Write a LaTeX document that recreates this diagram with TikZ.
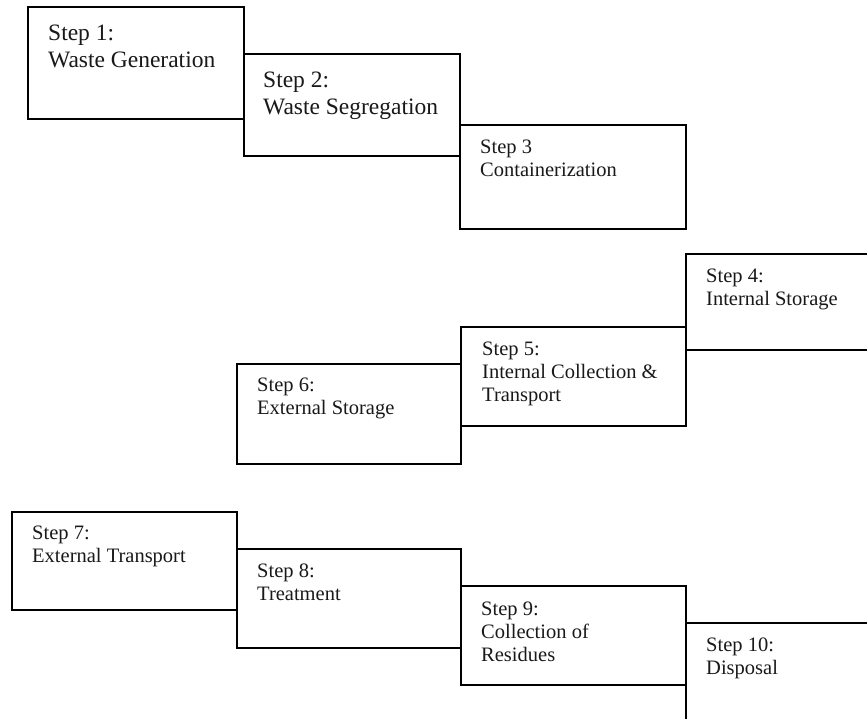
\documentclass[tikz,border=0pt]{standalone}
\usepackage{fontspec}
\setmainfont{Liberation Serif}
\usetikzlibrary{calc}
\begin{document}
\begin{tikzpicture}[x=1pt,y=-1pt,
  stepbox/.style={draw=black, line width=1.8pt, fill=white, rectangle, anchor=north west, inner sep=0pt},
  steptext/.style={anchor=north west, inner sep=0pt, align=left, font=\fontsize{20.5}{23}\selectfont, text=black!90},
  bigtext/.style={steptext, font=\fontsize{23.5}{26.5}\selectfont}]
\clip (0,0) rectangle (867,719);
\fill[white] (0,0) rectangle (867,719);
% boxes
\node[stepbox, minimum width=216pt, minimum height=112pt] (b1) at (27,6) {};
\node[stepbox, minimum width=216pt, minimum height=102pt] (b2) at (243,53) {};
\node[stepbox, minimum width=226pt, minimum height=104pt] (b3) at (459,124) {};
\node[stepbox, minimum width=240pt, minimum height=96pt] (b4) at (685,253) {};
\node[stepbox, minimum width=225pt, minimum height=99pt] (b5) at (460,326) {};
\node[stepbox, minimum width=224pt, minimum height=100pt] (b6) at (236,363) {};
\node[stepbox, minimum width=225pt, minimum height=98pt] (b7) at (11,511) {};
\node[stepbox, minimum width=224pt, minimum height=99pt] (b8) at (236,548) {};
\node[stepbox, minimum width=225pt, minimum height=99pt] (b9) at (460,585) {};
\node[stepbox, minimum width=240pt, minimum height=120pt] (b10) at (685,622) {};
% texts
\node[bigtext] (t1) at ($(b1.north west)+(21,19)$) {Step 1:\\Waste Generation};
\node[bigtext] (t2) at ($(b2.north west)+(20,19)$) {Step 2:\\Waste Segregation};
\node[steptext] (t3) at ($(b3.north west)+(21,16)$) {Step 3\\Containerization};
\node[steptext] (t4) at ($(b4.north west)+(21,16)$) {Step 4:\\Internal Storage};
\node[steptext] (t5) at ($(b5.north west)+(22,16)$) {Step 5:\\Internal Collection \&\\Transport};
\node[steptext] (t6) at ($(b6.north west)+(21,15)$) {Step 6:\\External Storage};
\node[steptext] (t7) at ($(b7.north west)+(21,15)$) {Step 7:\\External Transport};
\node[steptext] (t8) at ($(b8.north west)+(21,16)$) {Step 8:\\Treatment};
\node[steptext] (t9) at ($(b9.north west)+(21,17)$) {Step 9:\\Collection of\\Residues};
\node[steptext] (t10) at ($(b10.north west)+(21,16)$) {Step 10:\\Disposal};
\end{tikzpicture}
\end{document}
